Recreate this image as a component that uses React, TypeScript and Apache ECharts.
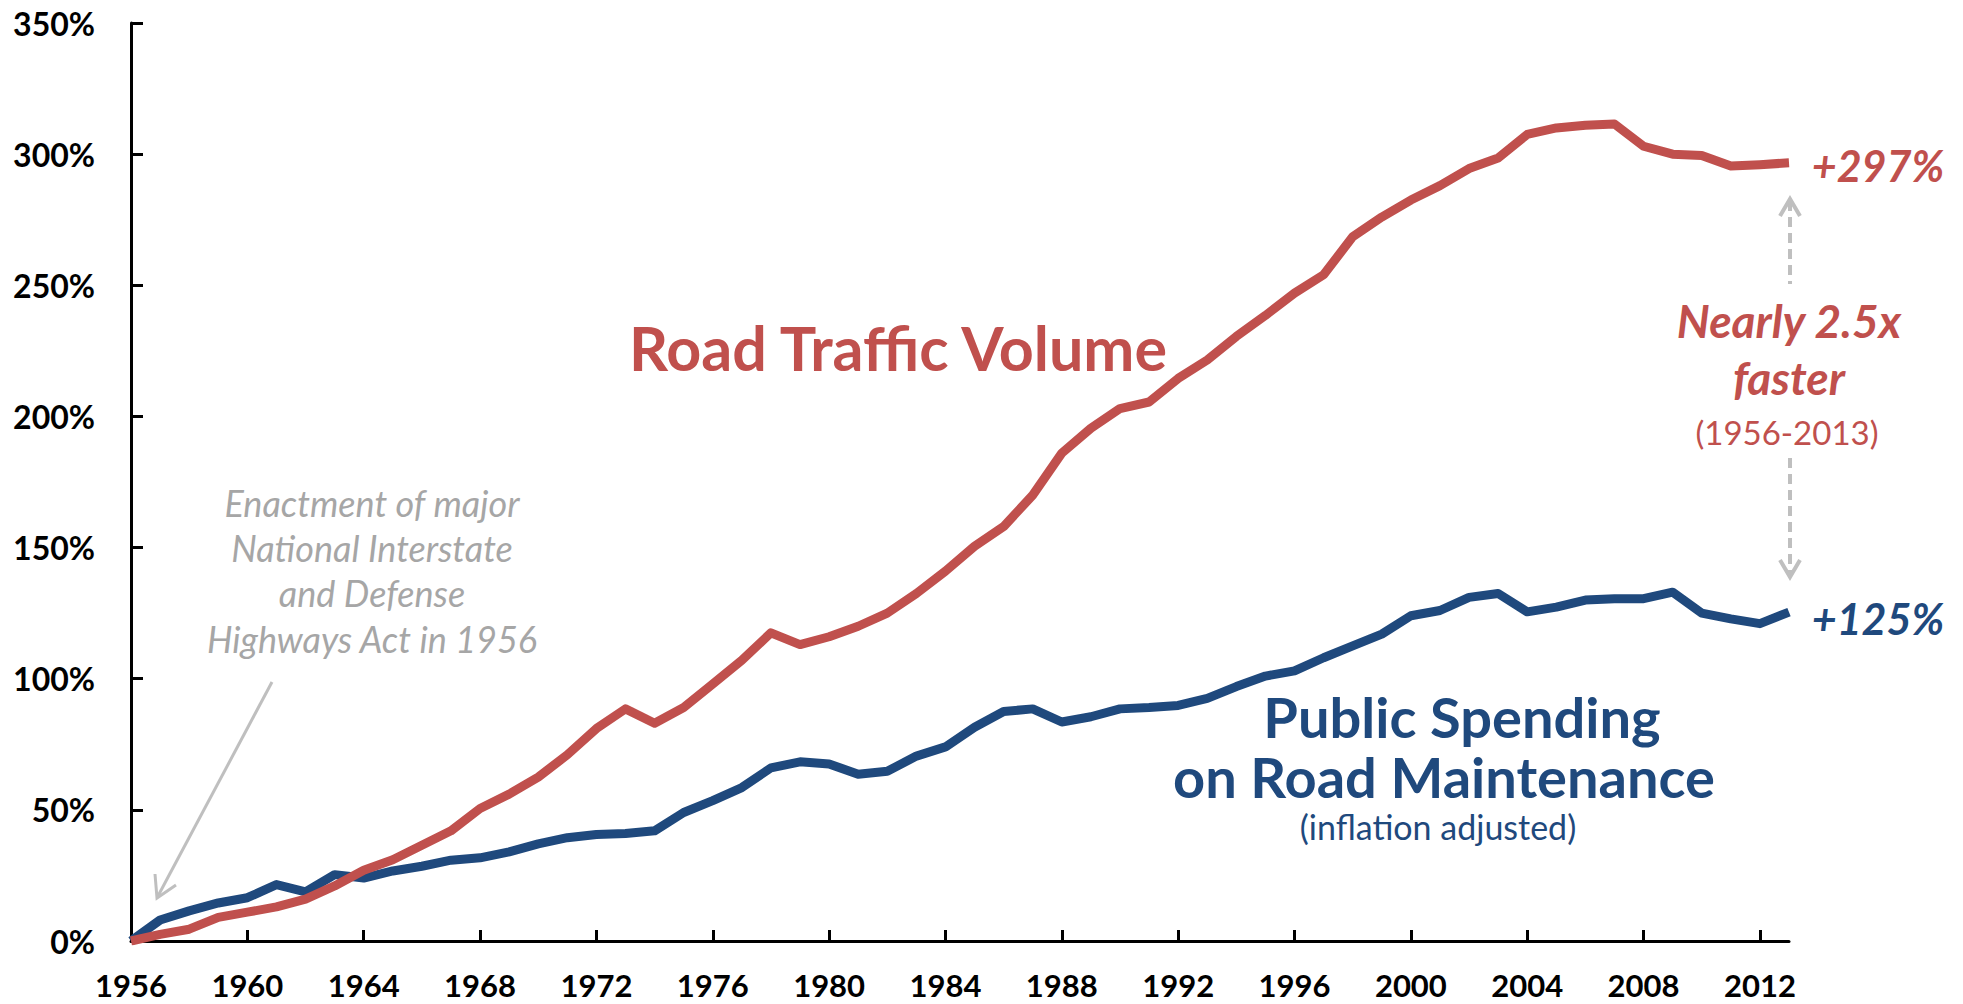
import React, { useEffect, useRef } from "react";
import * as echarts from "echarts";

const years = [
  "1956","1957","1958","1959","1960","1961","1962","1963","1964","1965",
  "1966","1967","1968","1969","1970","1971","1972","1973","1974","1975",
  "1976","1977","1978","1979","1980","1981","1982","1983","1984","1985",
  "1986","1987","1988","1989","1990","1991","1992","1993","1994","1995",
  "1996","1997","1998","1999","2000","2001","2002","2003","2004","2005",
  "2006","2007","2008","2009","2010","2011","2012","2013",
];

const trafficVolume = [
  0, 2.5, 4.5, 9, 11, 13, 16, 21, 27, 31,
  36.5, 42, 50.5, 56, 62.5, 71, 81, 88.5, 83, 89,
  98, 107, 117.5, 113, 116, 120, 125, 132.5, 141, 150.5,
  158, 170, 186, 195.5, 203, 205.5, 214.5, 221.5, 230.5, 238.5,
  247, 254, 268.5, 276, 282.5, 288, 294.5, 298.5, 307.5, 310,
  311, 311.5, 303, 300, 299.5, 295.5, 296, 296.7,
];

const maintenanceSpending = [
  0, 8, 11.5, 14.5, 16.5, 21.5, 18.7, 25.3, 24, 26.7,
  28.5, 30.8, 31.7, 34, 37, 39.4, 40.6, 41, 42, 49,
  53.5, 58.5, 66, 68.3, 67.5, 63.6, 64.7, 70.5, 74, 81.5,
  87.5, 88.5, 83.5, 85.5, 88.5, 89, 89.8, 92.5, 97, 101,
  103, 108, 112.5, 117, 124, 126, 131, 132.5, 125.5, 127.3,
  130, 130.5, 130.5, 133, 125, 122.8, 121, 125.4,
];

const yTicks = { min: 0, max: 350, interval: 50 };

const RED = "#C0504D";
const BLUE = "#1F497D";
const GRAY_TEXT = "#A6A6A6";
const GRAY_LINE = "#BFBFBF";
const FONT = "Lato, 'Open Sans', sans-serif";

export default function App() {
  const ref = useRef<HTMLDivElement>(null);

  useEffect(() => {
    document.body.style.margin = "0";
    if (!ref.current) return;
    const chart = echarts.init(ref.current, undefined, { renderer: "svg" });

    const txt = (
      text: string,
      x: number,
      y: number,
      font: string,
      fill: string
    ) => ({
      type: "text",
      style: {
        text,
        x,
        y,
        font,
        fill,
        textAlign: "center",
        textVerticalAlign: "middle",
      },
      z: 10,
    });

    const arrowX = 1790;

    chart.setOption({
      animation: false,
      backgroundColor: "#ffffff",
      grid: { left: 131, right: 174, top: 23, bottom: 63, containLabel: false },
      xAxis: {
        type: "category",
        data: years,
        boundaryGap: false,
        axisLine: { lineStyle: { color: "#000", width: 3 } },
        axisTick: {
          show: true,
          inside: true,
          length: 11,
          interval: 3,
          lineStyle: { color: "#000", width: 3 },
        },
        axisLabel: {
          interval: 3,
          margin: 28,
          color: "#000",
          fontFamily: FONT,
          fontWeight: "bold",
          fontSize: 31,
          lineHeight: 31,
        },
        splitLine: { show: false },
      },
      yAxis: {
        type: "value",
        min: yTicks.min,
        max: yTicks.max,
        interval: yTicks.interval,
        axisLine: { show: true, lineStyle: { color: "#000", width: 3 } },
        axisTick: {
          show: true,
          inside: true,
          length: 12,
          lineStyle: { color: "#000", width: 3 },
        },
        axisLabel: {
          formatter: "{value}%",
          margin: 36,
          color: "#000",
          fontFamily: FONT,
          fontWeight: "bold",
          fontSize: 32,
        },
        splitLine: { show: false },
      },
      series: [
        {
          name: "Public Spending on Road Maintenance",
          type: "line",
          data: maintenanceSpending,
          showSymbol: false,
          symbol: "none",
          lineStyle: { color: BLUE, width: 9, join: "round", cap: "butt" },
          z: 3,
        },
        {
          name: "Road Traffic Volume",
          type: "line",
          data: trafficVolume,
          showSymbol: false,
          symbol: "none",
          lineStyle: { color: RED, width: 9, join: "round", cap: "butt" },
          z: 4,
        },
      ],
      graphic: [
        txt("Road Traffic Volume", 898, 347, `bold 61px ${FONT}`, RED),
        txt("Public Spending", 1462, 716, `bold 56px ${FONT}`, BLUE),
        txt("on Road Maintenance", 1444, 776, `bold 56px ${FONT}`, BLUE),
        txt("(inflation adjusted)", 1438, 826, `34px ${FONT}`, BLUE),
        txt("+297%", 1878, 165, `italic bold 43px ${FONT}`, RED),
        txt("+125%", 1878, 618, `italic bold 43px ${FONT}`, BLUE),
        txt("Nearly 2.5x", 1789, 320, `italic bold 46px ${FONT}`, RED),
        txt("faster", 1789, 377, `italic bold 46px ${FONT}`, RED),
        txt("(1956-2013)", 1787, 432, `33px ${FONT}`, RED),
        txt("Enactment of major", 372, 503, `italic 36px ${FONT}`, GRAY_TEXT),
        txt("National Interstate", 372, 548, `italic 36px ${FONT}`, GRAY_TEXT),
        txt("and Defense", 372, 593, `italic 36px ${FONT}`, GRAY_TEXT),
        txt("Highways Act in 1956", 372, 639, `italic 36px ${FONT}`, GRAY_TEXT),
        {
          type: "line",
          shape: { x1: 272, y1: 682, x2: 158, y2: 896 },
          style: { stroke: GRAY_LINE, lineWidth: 3 },
          z: 10,
        },
        {
          type: "polyline",
          shape: { points: [[155, 874], [157, 898], [176, 885]] },
          style: { stroke: GRAY_LINE, lineWidth: 3, fill: "none" },
          z: 10,
        },
        {
          type: "line",
          shape: { x1: arrowX, y1: 201, x2: arrowX, y2: 284 },
          style: { stroke: GRAY_LINE, lineWidth: 4, lineDash: [10, 6] },
          z: 10,
        },
        {
          type: "polyline",
          shape: { points: [[arrowX - 10, 216], [arrowX, 199], [arrowX + 10, 216]] },
          style: { stroke: GRAY_LINE, lineWidth: 4, fill: "none" },
          z: 10,
        },
        {
          type: "line",
          shape: { x1: arrowX, y1: 458, x2: arrowX, y2: 575 },
          style: { stroke: GRAY_LINE, lineWidth: 4, lineDash: [10, 6] },
          z: 10,
        },
        {
          type: "polyline",
          shape: { points: [[arrowX - 10, 560], [arrowX, 577], [arrowX + 10, 560]] },
          style: { stroke: GRAY_LINE, lineWidth: 4, fill: "none" },
          z: 10,
        },
      ],
    });

    const onResize = () => chart.resize();
    window.addEventListener("resize", onResize);
    return () => {
      window.removeEventListener("resize", onResize);
      chart.dispose();
    };
  }, []);

  return (
    <div
      ref={ref}
      style={{ position: "fixed", left: 0, top: 0, width: "1963px", height: "1004px" }}
    />
  );
}
